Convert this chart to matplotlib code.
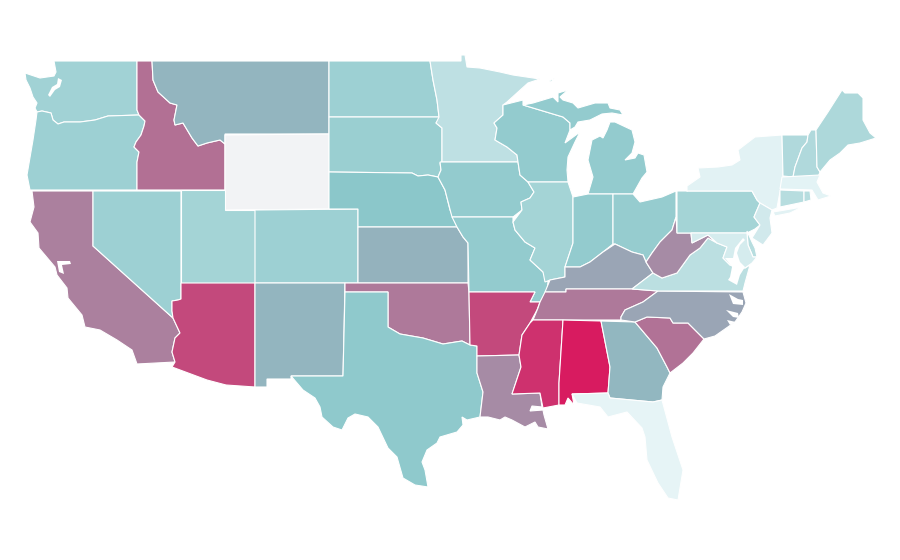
"""US states choropleth"""
import numpy as np
import matplotlib
matplotlib.use('Agg')
import matplotlib.pyplot as plt
from matplotlib.colors import LinearSegmentedColormap, Normalize
from matplotlib.patches import Polygon

# value per state. Wyoming has no data
states = ['WA', 'OR', 'CA', 'NV', 'ID', 'MT', 'WY', 'UT', 'CO', 'AZ', 'NM', 'ND', 'SD', 'NE', 'KS', 'OK',
          'TX', 'MN', 'IA', 'MO', 'AR', 'LA', 'WI', 'IL', 'MI', 'IN', 'OH', 'KY', 'TN', 'MS', 'AL', 'GA',
          'FL', 'SC', 'NC', 'VA', 'WV', 'PA', 'NY', 'VT', 'NH', 'ME', 'MA', 'CT', 'RI', 'NJ', 'DE', 'MD']
values = [19, 20, 56, 20, 63, 33, np.nan, 18, 20, 80, 33, 20, 21, 25, 34, 59,
          24, 11, 23, 23, 80, 51, 23, 18, 23, 23, 22, 40, 59, 90, 100, 32,
          0, 62, 40, 12, 51, 18, 1.5, 15, 15, 16, 1, 13, 13, 6, 13, 5]

# no shapefile available here, so the outlines are traced by hand (in image pixels)
outlines = {
    'WA': [[(54, 61), (137, 61), (137, 110), (139, 115), (108, 116), (95, 120), (80, 122), (68, 122), (64, 122),
            (58, 124), (53, 120), (51, 113), (42, 111), (37, 112), (35, 108), (37, 103), (33, 97), (30, 88),
            (26, 80), (25, 73), (40, 78), (47, 77), (54, 76), (56, 72)]],
    'OR': [[(37, 112), (42, 111), (51, 113), (53, 120), (58, 124), (64, 122), (68, 122), (80, 122), (95, 120),
            (108, 116), (139, 115), (145, 121), (144, 126), (141, 135), (136, 142), (134, 147), (139, 152),
            (137, 162), (137, 190), (30, 190), (27, 175), (33, 140), (36, 120)]],
    'CA': [[(32, 191), (93, 191), (93, 246), (173, 318), (180, 333), (175, 338), (172, 352), (175, 362), (137, 364),
            (132, 350), (117, 340), (100, 330), (85, 327), (82, 315), (68, 298), (67, 288), (57, 275), (55, 267),
            (39, 248), (38, 233), (30, 222), (34, 207)]],
    'NV': [[(93, 191), (181, 191), (181, 299), (178, 300), (172, 301), (172, 311), (173, 318), (93, 246)]],
    'ID': [[(137, 61), (152, 61), (153, 80), (158, 92), (170, 103), (177, 105), (174, 120), (175, 125), (183, 123),
            (192, 138), (198, 146), (207, 143), (220, 140), (225, 144), (225, 190), (137, 190), (137, 162),
            (139, 152), (134, 147), (136, 142), (141, 135), (144, 126), (145, 121), (139, 115), (137, 110)]],
    'MT': [[(152, 61), (329, 61), (329, 134), (225, 134), (225, 144), (220, 140), (207, 143), (198, 146), (192, 138),
            (183, 123), (175, 125), (174, 120), (177, 105), (170, 103), (158, 92), (153, 80)]],
    'WY': [[(225, 135), (329, 134), (329, 209), (225, 210)]],
    'UT': [[(181, 190), (225, 190), (225, 210), (255, 210), (255, 283), (181, 283)]],
    'CO': [[(255, 210), (358, 209), (358, 283), (255, 283)]],
    'AZ': [[(181, 283), (255, 283), (255, 387), (226, 385), (207, 380), (172, 367), (175, 362), (172, 352), (175, 338),
            (180, 333), (173, 318), (172, 311), (172, 301), (178, 300), (181, 299)]],
    'NM': [[(255, 283), (345, 283), (343, 376), (291, 376), (291, 379), (267, 379), (267, 387), (255, 387)]],
    'ND': [[(329, 61), (430, 61), (433, 80), (437, 100), (439, 117), (329, 117)]],
    'SD': [[(329, 117), (439, 117), (439, 120), (436, 123), (442, 128), (442, 162), (440, 163), (441, 170), (438, 177),
            (428, 175), (418, 176), (412, 173), (329, 172)]],
    'NE': [[(329, 172), (412, 173), (418, 176), (428, 175), (438, 177), (445, 190), (450, 210), (457, 227), (358, 227),
            (358, 209), (329, 209)]],
    'KS': [[(358, 227), (457, 227), (463, 237), (468, 243), (468, 283), (358, 283)]],
    'OK': [[(345, 283), (468, 283), (469, 292), (470, 345), (462, 341), (443, 344), (423, 338), (400, 334), (388, 327),
            (388, 292), (345, 292)]],
    'TX': [[(345, 292), (388, 292), (388, 327), (400, 334), (423, 338), (443, 344), (462, 341), (470, 345), (477, 346),
            (477, 373), (483, 392), (480, 417), (467, 420), (462, 417), (463, 425), (457, 432), (440, 437), (437, 443),
            (427, 450), (422, 462), (425, 470), (428, 487), (415, 485), (403, 478), (397, 457), (388, 448), (378, 427),
            (368, 417), (355, 414), (348, 418), (342, 430), (333, 427), (322, 417), (320, 407), (315, 398), (303, 390),
            (291, 376), (343, 376)]],
    'MN': [[(430, 61), (461, 61), (461, 55), (465, 55), (467, 67), (480, 68), (500, 72), (513, 75), (540, 79), (528, 83),
            (507, 102), (503, 105), (503, 115), (494, 123), (497, 128), (495, 140), (507, 147), (517, 155), (518, 162),
            (442, 162), (442, 128), (436, 123), (439, 117), (437, 100), (433, 80)]],
    'IA': [[(440, 162), (518, 162), (520, 175), (528, 182), (534, 192), (530, 198), (521, 202), (522, 210), (513, 217),
            (452, 217), (445, 190), (438, 177), (441, 170)]],
    'MO': [[(452, 217), (513, 217), (513, 222), (515, 230), (525, 242), (535, 248), (530, 260), (543, 272), (548, 282),
            (547, 291), (540, 302), (530, 302), (535, 292), (469, 292), (468, 243), (463, 237), (457, 227)]],
    'AR': [[(469, 292), (535, 292), (530, 302), (540, 302), (537, 310), (530, 323), (522, 335), (519, 355), (477, 356),
            (477, 346), (470, 345)]],
    'LA': [[(477, 356), (519, 355), (521, 367), (512, 394), (540, 393), (542, 407), (532, 406), (530, 411), (543, 410),
            (544, 415), (548, 429), (538, 427), (535, 422), (525, 427), (512, 420), (505, 417), (500, 420), (488, 417),
            (480, 417), (483, 392), (477, 373)]],
    'WI': [[(503, 105), (523, 100), (523, 105), (533, 108), (563, 117), (570, 123), (570, 130), (565, 143), (580, 132),
            (575, 142), (568, 157), (567, 170), (568, 182), (528, 182), (520, 175), (518, 162), (517, 155), (507, 147),
            (495, 140), (497, 128), (494, 123), (503, 115)]],
    'IL': [[(528, 182), (568, 182), (573, 197), (573, 243), (565, 267), (565, 277), (550, 280), (545, 282), (543, 272),
            (530, 260), (535, 248), (525, 242), (515, 230), (513, 222), (522, 210), (521, 202), (530, 198), (534, 192)]],
    'MI': [[(588, 194), (633, 194), (642, 178), (647, 172), (644, 155), (638, 153), (635, 158), (625, 160), (632, 153),
            (635, 142), (632, 130), (615, 122), (610, 122), (607, 130), (603, 138), (600, 136), (592, 140), (588, 160),
            (593, 177)],
           [(523, 105), (533, 103), (553, 97), (558, 102), (558, 93), (568, 90), (560, 97), (563, 100), (573, 103),
            (578, 108), (595, 103), (608, 103), (610, 108), (620, 110), (623, 115), (612, 113), (602, 114), (590, 120),
            (578, 122), (575, 127), (570, 130), (570, 123), (563, 117), (533, 108)],
           [(549, 81), (555, 78), (551, 82)]],
    'IN': [[(573, 197), (588, 194), (613, 194), (613, 244), (603, 252), (590, 262), (580, 267), (565, 267), (573, 243)]],
    'OH': [[(613, 194), (633, 194), (640, 202), (662, 197), (676, 191), (676, 217), (672, 230), (660, 242), (652, 253),
            (646, 262), (643, 255), (632, 252), (615, 244), (613, 244)]],
    'KY': [[(545, 292), (550, 280), (565, 277), (565, 267), (580, 267), (590, 262), (603, 252), (615, 244), (632, 252),
            (643, 255), (646, 262), (653, 273), (632, 289), (566, 289), (566, 292)]],
    'TN': [[(533, 320), (538, 308), (540, 302), (545, 292), (566, 292), (566, 289), (632, 289), (658, 291), (643, 302),
            (625, 310), (621, 317), (621, 320)]],
    'MS': [[(533, 320), (563, 320), (559, 383), (559, 405), (543, 408), (540, 393), (512, 394), (521, 367), (519, 355),
            (522, 335), (530, 323)]],
    'AL': [[(563, 320), (601, 321), (610, 367), (608, 393), (572, 394), (574, 405), (568, 398), (565, 405), (559, 405),
            (559, 383)]],
    'GA': [[(601, 321), (635, 322), (657, 348), (667, 367), (670, 373), (663, 387), (662, 400), (653, 402), (610, 398),
            (608, 393), (610, 367)]],
    'FL': [[(572, 394), (608, 393), (610, 398), (653, 402), (662, 400), (672, 437), (683, 470), (678, 500), (668, 498),
            (658, 483), (647, 460), (645, 437), (642, 428), (627, 412), (608, 417), (600, 407), (577, 403)]],
    'SC': [[(635, 322), (647, 317), (670, 318), (673, 323), (688, 323), (704, 339), (693, 353), (683, 363), (670, 373),
            (667, 367), (657, 348)]],
    'NC': [[(621, 320), (621, 317), (625, 310), (643, 302), (658, 291), (743, 292), (746, 303), (742, 312), (735, 322),
            (715, 336), (704, 339), (688, 323), (673, 323), (670, 318), (647, 317), (635, 322)]],
    'VA': [[(632, 289), (653, 273), (662, 278), (677, 273), (690, 255), (700, 248), (708, 238), (717, 243), (727, 247),
            (723, 258), (730, 265), (745, 268), (750, 265), (745, 283), (743, 291), (658, 291)]],
    'WV': [[(676, 217), (677, 233), (691, 233), (692, 243), (708, 235), (717, 243), (708, 238), (700, 248), (690, 255),
            (677, 273), (662, 278), (653, 273), (646, 262), (652, 253), (660, 242), (672, 230)]],
    'PA': [[(677, 191), (687, 191), (688, 186), (687, 191), (752, 191), (757, 200), (760, 203), (754, 217), (760, 225),
            (755, 229), (747, 233), (677, 233)]],
    'NY': [[(687, 186), (700, 177), (698, 168), (718, 167), (732, 165), (740, 160), (738, 150), (755, 137), (782, 135),
            (783, 177), (779, 197), (777, 208), (772, 210), (760, 203), (757, 200), (752, 191), (687, 191)],
           [(773, 212), (785, 210), (802, 207), (790, 213), (775, 216)]],
    'VT': [[(782, 135), (808, 135), (807, 142), (802, 148), (795, 167), (793, 177), (783, 176)]],
    'NH': [[(811, 130), (816, 130), (817, 167), (820, 172), (818, 177), (793, 177), (795, 167), (802, 148), (807, 142),
            (808, 135)]],
    'ME': [[(816, 130), (828, 112), (842, 90), (845, 93), (858, 93), (863, 98), (863, 120), (870, 133), (876, 138),
            (860, 143), (848, 145), (840, 153), (830, 160), (820, 172), (817, 167)]],
    'MA': [[(782, 177), (820, 175), (817, 182), (823, 193), (831, 196), (818, 200), (812, 190), (780, 189)]],
    'CT': [[(780, 190), (804, 191), (804, 202), (780, 207)]],
    'RI': [[(804, 191), (810, 191), (811, 200), (804, 202)]],
    'NJ': [[(760, 203), (772, 210), (770, 218), (772, 233), (763, 245), (752, 238), (760, 225), (754, 217)]],
    'DE': [[(747, 231), (752, 242), (755, 248), (757, 257), (753, 257), (748, 245)]],
    'MD': [[(691, 233), (747, 233), (748, 245), (753, 257), (757, 257), (752, 263), (745, 268), (730, 265), (723, 258),
            (727, 247), (717, 243), (708, 235), (692, 243)]],
}

# sounds and bays left as white gaps
water = [
    [(58, 78), (62, 80), (60, 87), (55, 90), (50, 97), (48, 95), (52, 87), (57, 84)],
    [(57, 261), (70, 261), (71, 264), (62, 265), (64, 274), (59, 272)],
    [(743, 238), (735, 248), (733, 258), (725, 258), (732, 267), (730, 277), (728, 280), (737, 285), (740, 275),
     (745, 267), (740, 262), (737, 253), (740, 245), (745, 240)],
    [(729, 294), (738, 299), (743, 300), (743, 305), (733, 304)],
    [(726, 310), (738, 313), (739, 318), (733, 317)],
    [(727, 320), (736, 322), (730, 325)],
]

cmap = LinearSegmentedColormap.from_list('teal_crimson', [(0, '#e6f4f6'), (0.25, '#8bc7ca'), (1, '#d81b60')])
cmap.set_bad('#f2f3f5')
norm = Normalize(0, 100)

fig = plt.figure(figsize=(9, 5.6), dpi=100)
ax = fig.add_axes([0, 0, 1, 1])

for state, value in zip(states, values):
    color = cmap(norm(np.ma.masked_invalid(value)))
    for ring in outlines[state]:
        ax.add_patch(Polygon(ring, closed=True, facecolor=color, edgecolor='white', linewidth=0.8))

for ring in water:
    ax.add_patch(Polygon(ring, closed=True, facecolor='white', edgecolor='none'))

ax.set_xlim(0, 900)
ax.set_ylim(560, 0)
ax.axis('off')

fig.savefig('out.png', dpi=100)
